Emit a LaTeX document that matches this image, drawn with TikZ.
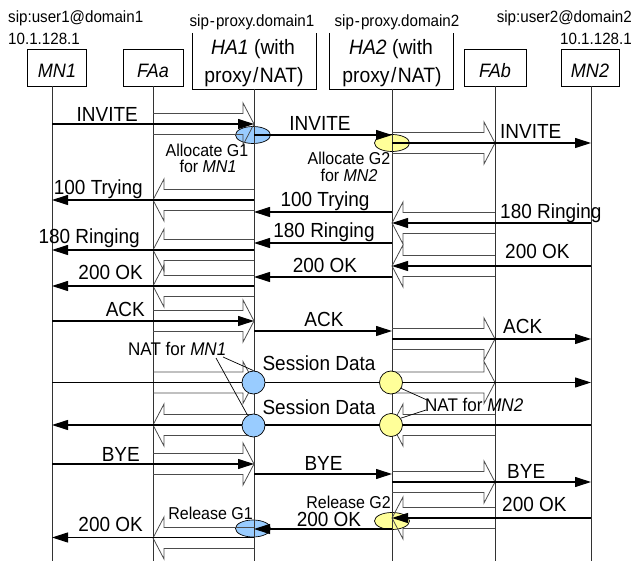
\documentclass[tikz,border=0pt]{standalone}
\usepackage{fontspec}
\setmainfont[FakeStretch=0.93]{Liberation Sans}
\usetikzlibrary{arrows.meta,shapes.geometric,calc}
\definecolor{blueg}{HTML}{99CCFF}
\definecolor{yelg}{HTML}{FFFF99}
\newcommand\tunR[3]{\draw[tun] ($(#1|-0,#3)+(0,-10.5)$) -- ($(#2|-0,#3)+(-11,-10.5)$) -- ($(#2|-0,#3)+(-11,-21)$) -- (#2|-0,#3) -- ($(#2|-0,#3)+(-11,21)$) -- ($(#2|-0,#3)+(-11,10.5)$) -- ($(#1|-0,#3)+(0,10.5)$);}
\newcommand\tunL[3]{\draw[tun] ($(#1|-0,#3)+(0,-10.5)$) -- ($(#2|-0,#3)+(11,-10.5)$) -- ($(#2|-0,#3)+(11,-21)$) -- (#2|-0,#3) -- ($(#2|-0,#3)+(11,21)$) -- ($(#2|-0,#3)+(11,10.5)$) -- ($(#1|-0,#3)+(0,10.5)$);}
\newcommand\sqmsg[3]{\draw[msgline] (#1|-0,#3) -- (#2|-0,#3);}
\begin{document}
\begin{tikzpicture}[x=1pt,y=-1pt,
  boxn/.style={draw, line width=0.8pt, inner sep=0pt},
  boxline/.style={line width=0.8pt},
  life/.style={line width=0.8pt, black!80},
  tun/.style={line width=0.8pt, black!70},
  msgline/.style={line width=1.1pt, -{Triangle[length=16pt,width=10pt]}},
  ell/.style={ellipse, draw, line width=0.7pt, inner sep=0pt, minimum width=35pt, minimum height=17pt},
  circ/.style={circle, draw, line width=0.7pt, inner sep=0pt, minimum size=23pt},
  call/.style={line width=0.7pt},
  lbl/.style={font=\fontsize{20.4}{23}\selectfont, inner sep=0pt},
  hdr/.style={font=\fontsize{16.3}{19}\selectfont, inner sep=0pt},
  bt/.style={font=\fontsize{19.4}{22}\selectfont, inner sep=0pt},
  ht/.style={font=\fontsize{20.8}{23}\selectfont, inner sep=0pt},
  note/.style={font=\fontsize{17.2}{20}\selectfont, inner sep=0pt},
  nat/.style={font=\fontsize{18.3}{21}\selectfont, inner sep=0pt}]
\useasboundingbox (0,0) rectangle (635,561);
\coordinate (bot) at (0,561);
% header texts
\node[hdr, anchor=base west] (h1) at (8,23) {sip:user1@domain1};
\node[hdr, anchor=base west] (h2) at (8,45) {10.1.128.1};
\node[hdr, anchor=base] (h3) at (252,27) {sip\kern1pt-\kern1pt proxy.domain1};
\node[hdr, anchor=base] (h4) at (397,27) {sip\kern1pt-\kern1pt proxy.domain2};
\node[hdr, anchor=base east] (h5) at (632,23) {sip:user2@domain2};
\node[hdr, anchor=base east] (h6) at (632,45) {10.1.128.1};
% boxes
\node[boxn, minimum width=59pt, minimum height=37pt] (mn1) at (56.5,67.5) {};
\node[boxn, minimum width=60pt, minimum height=37pt] (faa) at (153,67.5) {};
\node[inner sep=0pt, minimum width=123pt, minimum height=56pt] (ha1) at (254.5,61) {};
\draw[boxline] (ha1.north west) -- (ha1.south west) -- (ha1.south east) -- (ha1.north east);
\node[inner sep=0pt, minimum width=123pt, minimum height=56pt] (ha2) at (391.5,61) {};
\draw[boxline] (ha2.north west) -- (ha2.south west) -- (ha2.south east) -- (ha2.north east);
\node[boxn, minimum width=62pt, minimum height=37pt] (fab) at (495,67.5) {};
\node[boxn, minimum width=58pt, minimum height=37pt] (mn2) at (590,67.5) {};
\node[bt, anchor=base] (mn1t) at (57,78) {\textit{MN1}};
\node[bt, anchor=base] (faat) at (153,78) {\textit{FAa}};
\node[ht, anchor=base] (ha1t) at (253,55) {\textit{HA1} (with};
\node[ht, anchor=base] (ha1u) at (254,83) {proxy\kern1.5pt/\kern1.5pt NAT)};
\node[ht, anchor=base] (ha2t) at (391,55) {\textit{HA2} (with};
\node[ht, anchor=base] (ha2u) at (392,83) {proxy\kern1.5pt/\kern1.5pt NAT)};
\node[bt, anchor=base] (fabt) at (495,78) {\textit{FAb}};
\node[bt, anchor=base] (mn2t) at (590,78) {\textit{MN2}};
% ellipses
\node[ell, fill=blueg] (g1a) at (253,135) {};
\node[ell, fill=yelg] (g2a) at (392,143) {};
\node[ell, fill=yelg] (g2b) at (392,521) {};
\node[ell, fill=blueg] (g1b) at (253,528.5) {};
% lifelines
\coordinate (l1) at (52,86);
\coordinate (l2) at (153,86);
\coordinate (l3) at (254,89);
\coordinate (l4) at (392,89);
\coordinate (l5) at (495,86);
\coordinate (l6) at (591,86);
\foreach \l in {l1,l2,l3,l4,l5,l6} \draw[life] (\l) -- (\l |- bot);
% tunnels
\tunR{l2}{l3}{124}
\tunR{l4}{l5}{143}
\tunL{l3}{l2}{200}
\tunL{l5}{l4}{223}
\tunL{l3}{l2}{250}
\tunL{l5}{l4}{266}
\tunL{l3}{l2}{286}
\tunR{l2}{l3}{321}
\tunR{l4}{l5}{339}
\tunR{l2}{l3}{382.5}
\tunR{l4}{l5}{382.5}
\tunL{l3}{l2}{425}
\tunL{l5}{l4}{425}
\tunR{l2}{l3}{464}
\tunR{l4}{l5}{482}
\tunL{l5}{l4}{518}
\tunL{l3}{l2}{538}
% messages
\sqmsg{l1}{l3}{124}
\sqmsg{l3}{l4}{135}
\sqmsg{l4}{l6}{143}
\sqmsg{l3}{l1}{200}
\sqmsg{l4}{l3}{212}
\sqmsg{l6}{l4}{223}
\sqmsg{l4}{l3}{243}
\sqmsg{l3}{l1}{250}
\sqmsg{l6}{l4}{266}
\sqmsg{l4}{l3}{277}
\sqmsg{l3}{l1}{286}
\sqmsg{l1}{l3}{321}
\sqmsg{l3}{l4}{331}
\sqmsg{l4}{l6}{339}
\sqmsg{l1}{l6}{382.5}
\sqmsg{l6}{l1}{425}
\sqmsg{l1}{l3}{464}
\sqmsg{l3}{l4}{474}
\sqmsg{l4}{l6}{482}
\sqmsg{l6}{l4}{518}
\sqmsg{l4}{l3}{529}
\sqmsg{l3}{l1}{537.5}
% circles
\node[circ, fill=blueg] (c1) at (253.5,382.5) {};
\node[circ, fill=yelg] (c2) at (391,382.5) {};
\node[circ, fill=blueg] (c3) at (253.5,425.5) {};
\node[circ, fill=yelg] (c4) at (391,425) {};
% callouts
\coordinate (k1) at (223,357);
\coordinate (k2) at (216,358);
\coordinate (k3) at (427,400);
\coordinate (k4) at (426,410);
\draw[call] (k1) -- (c1.north);
\draw[call] (k2) -- (c3.120);
\draw[call] (c2.-30) -- (k3);
\draw[call] (k4) -- (c4.35);
% message labels
\node[lbl, anchor=base east] (m1) at (138,122) {INVITE};
\node[lbl, anchor=base] (m2) at (320,131) {INVITE};
\node[lbl, anchor=base west] (m3) at (500,139) {INVITE};
\node[lbl, anchor=base east] (m4) at (143,195) {100 Trying};
\node[lbl, anchor=base] (m5) at (325,207) {100 Trying};
\node[lbl, anchor=base west] (m6) at (500,219) {180 Ringing};
\node[lbl, anchor=base] (m7) at (324,238) {180 Ringing};
\node[lbl, anchor=base east] (m8) at (140,244) {180 Ringing};
\node[lbl, anchor=base west] (m9) at (505,259) {200 OK};
\node[lbl, anchor=base] (m10) at (325,273) {200 OK};
\node[lbl, anchor=base east] (m11) at (143,280) {200 OK};
\node[lbl, anchor=base east] (m12) at (145,317) {ACK};
\node[lbl, anchor=base] (m13) at (324,327) {ACK};
\node[lbl, anchor=base west] (m14) at (503,334) {ACK};
\node[lbl, anchor=base] (m15) at (319,371) {Session Data};
\node[lbl, anchor=base] (m16) at (319,415) {Session Data};
\node[lbl, anchor=base east] (m17) at (140,461) {BYE};
\node[lbl, anchor=base] (m18) at (323.5,471) {BYE};
\node[lbl, anchor=base west] (m19) at (507,478) {BYE};
\node[lbl, anchor=base west] (m20) at (502,511) {200 OK};
\node[lbl, anchor=base] (m21) at (329,526) {200 OK};
\node[lbl, anchor=base east] (m22) at (143,531) {200 OK};
% annotations
\node[note, anchor=base] (a1) at (207,157) {Allocate G1};
\node[note, anchor=base] (a2) at (208,173) {for \textit{MN1}};
\node[note, anchor=base] (a3) at (349,165) {Allocate G2};
\node[note, anchor=base] (a4) at (349,182) {for \textit{MN2}};
\node[note, anchor=base east] (a5) at (253,519) {Release G1};
\node[note, anchor=base east] (a6) at (391,508) {Release G2};
\node[nat, anchor=base west] (n1) at (128,356) {NAT for \textit{MN1}};
\node[nat, anchor=base west] (n2) at (425,412) {NAT for \textit{MN2}};
\end{tikzpicture}
\end{document}
